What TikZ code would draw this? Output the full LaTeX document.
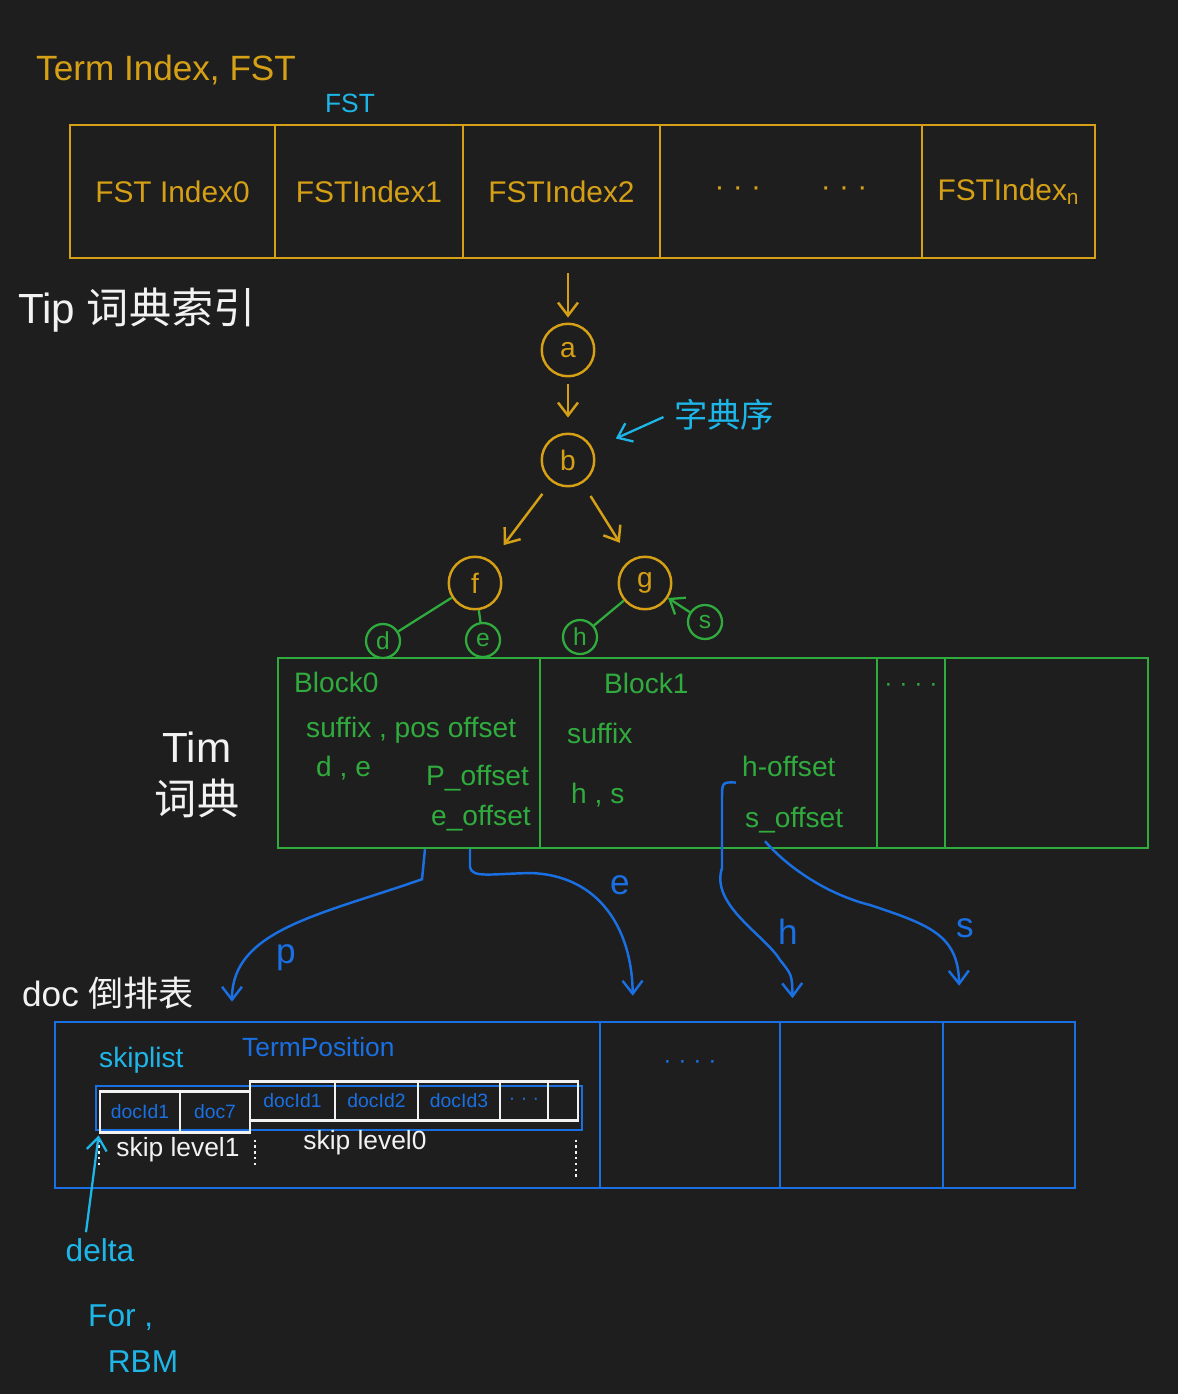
\documentclass[tikz,border=0pt]{standalone}
\usepackage{fontspec}
\setmainfont{Liberation Sans}
\newfontfamily\cjk{Noto Sans CJK SC}
\usetikzlibrary{arrows.meta}
\definecolor{board}{RGB}{30,30,30}
\definecolor{gold}{RGB}{214,160,22}
\definecolor{leafgreen}{RGB}{48,172,62}
\definecolor{postblue}{RGB}{26,112,226}
\definecolor{notecyan}{RGB}{30,182,232}
\definecolor{chalk}{RGB}{242,242,242}

\begin{document}
\begin{tikzpicture}[x=0.02cm, y=-0.02cm,
    barb/.style={-{Straight Barb[length=2.6mm, width=4mm]}},
    fstcell/.style={draw=gold, line width=1.5pt, minimum height=2.66cm, text=gold, font=\fontsize{17}{20}\selectfont},
    blockcell/.style={draw=leafgreen, line width=1.4pt, minimum height=3.8cm},
    doccell/.style={draw=postblue, line width=1.5pt, minimum height=3.32cm},
    skipcell/.style={draw=chalk, line width=1.3pt, inner sep=0pt, text=postblue, font=\fontsize{11}{13}\selectfont},
    trie/.style={circle, draw=gold, line width=1.4pt, minimum size=1.05cm, inner sep=0pt, text=gold, font=\fontsize{16}{18}\selectfont},
    leaf/.style={circle, draw=leafgreen, line width=1.3pt, minimum size=0.68cm, inner sep=0pt, text=leafgreen, font=\fontsize{14}{16}\selectfont},
    greentext/.style={text=leafgreen, anchor=west, font=\fontsize{16}{18}\selectfont},
    goldline/.style={draw=gold, line width=1.4pt, barb},
    greenline/.style={draw=leafgreen, line width=1.3pt},
    postline/.style={draw=postblue, line width=1.4pt, barb},
    noteline/.style={draw=notecyan, line width=1.3pt, barb}]

    \fill[board] (0,0) rectangle (1178,1394);
    \useasboundingbox (0,0) rectangle (1178,1394);

    % term index
    \node[text=gold, anchor=west, font=\fontsize{20}{24}\selectfont] (title) at (30,70) {Term Index, FST};
    \node[text=notecyan, font=\fontsize{15}{18}\selectfont] (fstname) at (350,103) {FST};

    \node[fstcell, minimum width=4.1cm] (fst0) at (172.5,191.5) {FST Index0};
    \node[fstcell, minimum width=3.76cm] (fst1) at (369,191.5) {FSTIndex1};
    \node[fstcell, minimum width=3.94cm] (fst2) at (561.5,191.5) {FSTIndex2};
    \node[fstcell, minimum width=5.24cm] (fst3) at (791,191.5) {· · ·\qquad · · ·};
    \node[fstcell, minimum width=3.46cm] (fst4) at (1008.5,191.5) {FSTIndex\textsubscript{n}};

    \node[text=chalk, anchor=west, font=\fontsize{24}{28}\selectfont] (tip) at (12,310) {Tip {\cjk 词典索引}};

    % fst
    \node[trie] (a) at (568,350) {a};
    \node[trie] (b) at (568,460) {b};
    \node[trie] (f) at (475,583) {f};
    \node[trie] (g) at (645,583) {g};

    \draw[goldline, shorten <=0.28cm, shorten >=0.1cm] (fst2.south -| a) -- (a);
    \draw[goldline, shorten <=0.14cm, shorten >=0.3cm] (a) -- (b);
    \draw[goldline, shorten <=0.3cm, shorten >=0.4cm] (b) -- (f);
    \draw[goldline, shorten <=0.3cm, shorten >=0.4cm] (b) -- (g);

    \node[text=notecyan, anchor=west, font=\fontsize{19}{22}\selectfont] (order) at (668,415) {\cjk 字典序};
    \draw[noteline, shorten <=0.1cm, shorten >=0.5cm] (order.west) -- (b);

    \node[leaf] (d) at (383,641) {d};
    \node[leaf] (e) at (483,640) {e};
    \node[leaf] (h) at (580,637) {h};
    \node[leaf] (s) at (705,622) {s};

    \draw[greenline] (f) -- (d);
    \draw[greenline] (f) -- (e);
    \draw[greenline] (g) -- (h);
    \draw[greenline, barb] (s) -- (g);

    % term dictionary
    \node[blockcell, minimum width=5.24cm] (blk0) at (409,753) {};
    \node[blockcell, minimum width=6.74cm] (blk1) at (708.5,753) {};
    \node[blockcell, minimum width=1.36cm] (blk2) at (911,753) {};
    \node[blockcell, minimum width=4.06cm] (blk3) at (1046.5,753) {};

    \node[greentext] (name0) at (288,682) {Block0};
    \node[greentext] (suf0) at (300,730) {suffix , pos offset};
    \node[greentext] (keys0) at (310,768) {d , e};
    \node[greentext] (poff) at (420,778) {P\_offset};
    \node[greentext] (eoff) at (425,818) {e\_offset};
    \node[greentext] (name1) at (598,683) {Block1};
    \node[greentext] (suf1) at (561,733) {suffix};
    \node[greentext] (keys1) at (565,795) {h , s};
    \node[greentext] (hoff) at (736,766) {h-offset};
    \node[greentext] (soff) at (739,820) {s\_offset};
    \node[text=leafgreen, font=\fontsize{14}{16}\selectfont] (more) at (911,687) {· · · ·};

    \node[text=chalk, align=center, font=\fontsize{24}{30}\selectfont] (tim) at (197,775) {Tim\\{\cjk 词典}};

    % postings
    \node[text=chalk, anchor=west, font=\fontsize{20}{24}\selectfont] (doclist) at (16,993) {doc {\cjk 倒排表}};

    \node[doccell, minimum width=10.9cm] (doc0) at (327.5,1105) {};
    \node[doccell, minimum width=3.6cm] (doc1) at (690,1105) {};
    \node[doccell, minimum width=3.26cm] (doc2) at (861.5,1105) {};
    \node[doccell, minimum width=2.64cm] (doc3) at (1009,1105) {};
    \node[text=postblue, font=\fontsize{14}{16}\selectfont] (docmore) at (690,1064) {· · · ·};

    \draw[postline, shorten >=0.38cm] (425,0 |- blk0.south) -- ++(-3,30)
        .. controls (320,915) and (232,930) .. (232,0 |- doc0.north);
    \draw[postline, shorten >=0.5cm] (470,0 |- blk0.south) -- ++(0,18)
        .. controls (472,878) and (490,874) .. (530,873)
        .. controls (600,875) and (632,930) .. (633,0 |- doc1.north);
    \draw[postline, shorten >=0.45cm] (hoff.south west) .. controls (722,782) .. (722,800) -- (722,868)
        .. controls (710,905) and (765,935) .. (780,960)
        .. controls (792,975) .. (793,0 |- doc2.north);
    \draw[postline, shorten >=0.7cm] (soff.south west) ++(26,2)
        .. controls (790,870) and (830,895) .. (870,905)
        .. controls (930,925) and (958,935) .. (960,0 |- doc3.north);

    \node[text=postblue, font=\fontsize{20}{24}\selectfont] (plab) at (286,958) {p};
    \node[text=postblue, font=\fontsize{20}{24}\selectfont] (elab) at (620,885) {e};
    \node[text=postblue, font=\fontsize{20}{24}\selectfont] (hlab) at (788,932) {h};
    \node[text=postblue, font=\fontsize{20}{24}\selectfont] (slab) at (965,928) {s};

    \node[text=notecyan, anchor=west, font=\fontsize{16}{18}\selectfont] (skiplist) at (93,1060) {skiplist};
    \node[text=postblue, anchor=west, font=\fontsize{15}{18}\selectfont] (termpos) at (236,1047) {TermPosition};

    \draw[postblue, line width=1.3pt] (96,1086) rectangle (582,1130);
    \node[skipcell, minimum width=1.6cm, minimum height=0.82cm] (lv1a) at (140,1112) {docId1};
    \node[skipcell, minimum width=1.4cm, minimum height=0.82cm] (lv1b) at (215,1112) {doc7};
    \node[skipcell, minimum width=1.7cm, minimum height=0.78cm] (lv0a) at (292.5,1101) {docId1};
    \node[skipcell, minimum width=1.66cm, minimum height=0.78cm] (lv0b) at (376.5,1101) {docId2};
    \node[skipcell, minimum width=1.64cm, minimum height=0.78cm] (lv0c) at (459,1101) {docId3};
    \node[skipcell, minimum width=0.96cm, minimum height=0.78cm] (lv0d) at (524,1101) {· · ·};
    \node[skipcell, minimum width=0.6cm, minimum height=0.78cm] (lv0e) at (563,1101) {};

    \draw[chalk, dotted, line width=1.3pt] (lv1a.south west) ++(0,6) -- ++(0,28);
    \draw[chalk, dotted, line width=1.3pt] (lv1b.south east) ++(4,6) -- ++(0,28);
    \draw[chalk, dotted, line width=1.3pt] (lv0e.south east) ++(-3,18) -- ++(0,40);
    \node[text=chalk, font=\fontsize{15}{18}\selectfont] (lvl1) at (178,1150) {skip level1};
    \node[text=chalk, font=\fontsize{15}{18}\selectfont] (lvl0) at (365,1143) {skip level0};

    % notes
    \node[text=notecyan, font=\fontsize{18}{22}\selectfont] (delta) at (100,1250) {delta};
    \draw[noteline, shorten >=1pt] (delta.north) ++(-14,0) -- (lv1a.south west);
    \node[text=notecyan, anchor=west, font=\fontsize{18}{22}\selectfont] (for) at (82,1318) {For ,};
    \node[text=notecyan, font=\fontsize{18}{22}\selectfont] (rbm) at (143,1362) {RBM};
\end{tikzpicture}
\end{document}
